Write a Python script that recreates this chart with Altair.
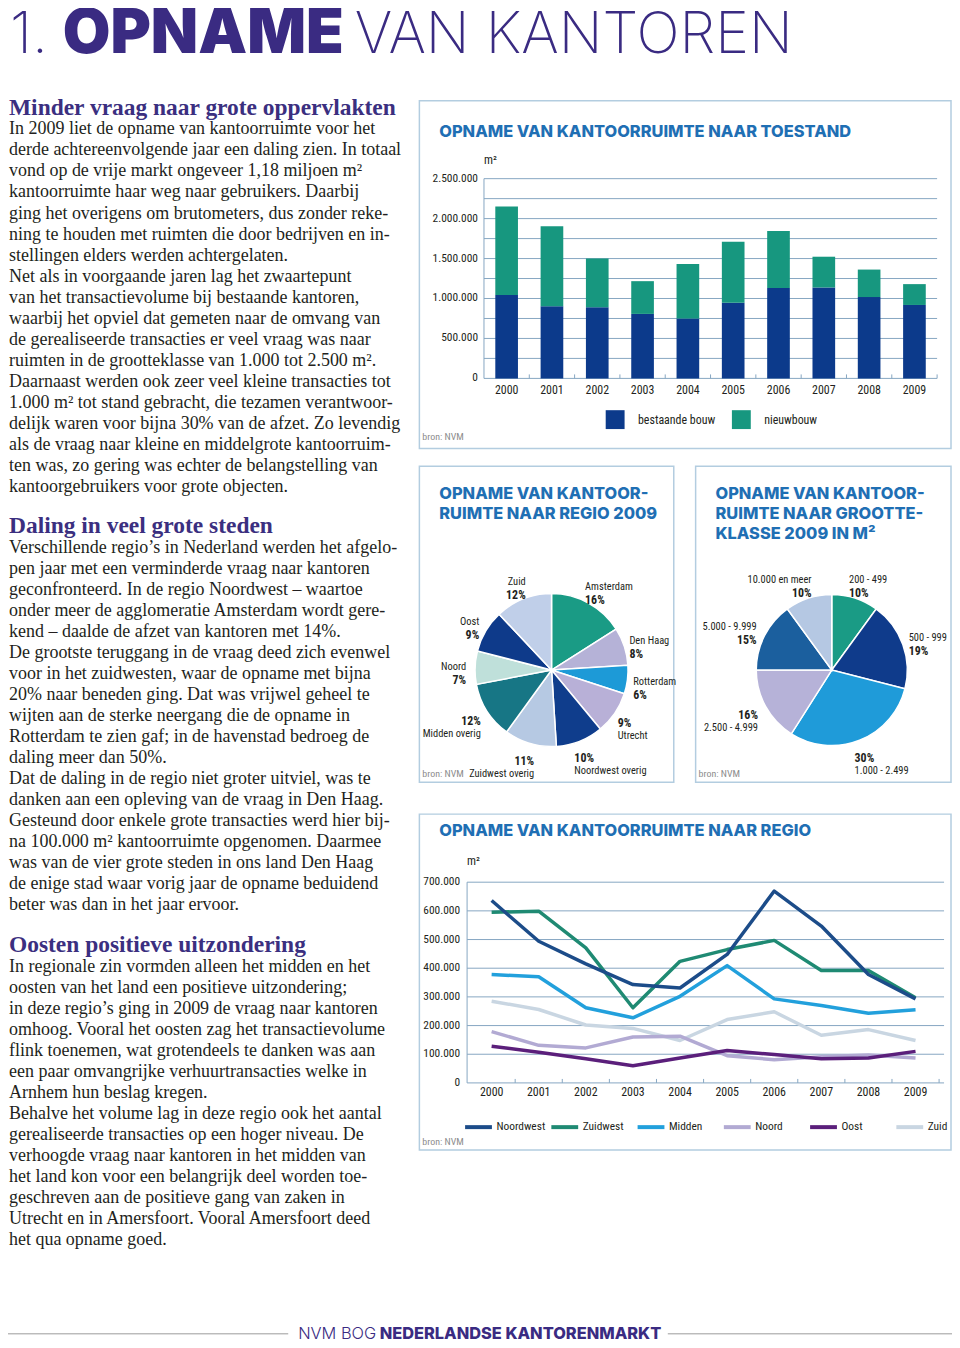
import altair as alt
import pandas as pd

# ---------------- data ----------------
years = [str(y) for y in range(2000, 2010)]

bar_series = ['bestaande bouw', 'nieuwbouw']
bestaande = [1043000, 902000, 890000, 807000, 749000, 948000, 1130000, 1138000, 1018000, 919000]
nieuwbouw = [1109000, 1002000, 612000, 410000, 683000, 761000, 716000, 385000, 344000, 261000]
bar_ticks = [0, 500000, 1000000, 1500000, 2000000, 2500000]
bar_tick_labels = ['0', '500.000', '1.000.000', '1.500.000', '2.000.000', '2.500.000']
bar_grid = [0, 250000, 500000, 750000, 1000000, 1250000, 1500000, 1750000, 2000000, 2250000, 2500000]

regio_names = ['Amsterdam', 'Den Haag', 'Rotterdam', 'Utrecht', 'Noordwest overig',
               'Zuidwest overig', 'Midden overig', 'Noord', 'Oost', 'Zuid']
regio_pct = [16, 8, 6, 9, 10, 11, 12, 7, 9, 12]

klasse_names = ['200 - 499', '500 - 999', '1.000 - 2.499', '2.500 - 4.999', '5.000 - 9.999', '10.000 en meer']
klasse_pct = [10, 19, 30, 16, 15, 10]

line_series = ['Noordwest', 'Zuidwest', 'Midden', 'Noord', 'Oost', 'Zuid']
noordwest = [636000, 494000, 415000, 343000, 331000, 448000, 669000, 547000, 378000, 293000]
zuidwest = [595000, 599000, 471000, 262000, 424000, 465000, 497000, 392000, 392000, 297000]
midden = [378000, 370000, 262000, 227000, 302000, 409000, 293000, 270000, 243000, 255000]
noord = [179000, 131000, 122000, 160000, 163000, 95000, 81000, 91000, 97000, 87000]
oost = [128000, 107000, 84000, 60000, 87000, 113000, 99000, 84000, 87000, 110000]
zuid = [285000, 256000, 202000, 190000, 148000, 221000, 248000, 166000, 186000, 148000]
line_ticks = [0, 100000, 200000, 300000, 400000, 500000, 600000, 700000]
line_tick_labels = ['0', '100.000', '200.000', '300.000', '400.000', '500.000', '600.000', '700.000']

sec1_title = "Minder vraag naar grote oppervlakten"
sec1_lines = [
    "In 2009 liet de opname van kantoorruimte voor het",
    "derde achtereenvolgende jaar een daling zien. In totaal",
    "vond op de vrije markt ongeveer 1,18 miljoen m²",
    "kantoorruimte haar weg naar gebruikers. Daarbij",
    "ging het overigens om brutometers, dus zonder reke-",
    "ning te houden met ruimten die door bedrijven en in-",
    "stellingen elders werden achtergelaten.",
    "Net als in voorgaande jaren lag het zwaartepunt",
    "van het transactievolume bij bestaande kantoren,",
    "waarbij het opviel dat gemeten naar de omvang van",
    "de gerealiseerde transacties er veel vraag was naar",
    "ruimten in de grootteklasse van 1.000 tot 2.500 m².",
    "Daarnaast werden ook zeer veel kleine transacties tot",
    "1.000 m² tot stand gebracht, die tezamen verantwoor-",
    "delijk waren voor bijna 30% van de afzet. Zo levendig",
    "als de vraag naar kleine en middelgrote kantoorruim-",
    "ten was, zo gering was echter de belangstelling van",
    "kantoorgebruikers voor grote objecten."]
sec2_title = "Daling in veel grote steden"
sec2_lines = [
    "Verschillende regio’s in Nederland werden het afgelo-",
    "pen jaar met een verminderde vraag naar kantoren",
    "geconfronteerd. In de regio Noordwest – waartoe",
    "onder meer de agglomeratie Amsterdam wordt gere-",
    "kend – daalde de afzet van kantoren met 14%.",
    "De grootste teruggang in de vraag deed zich evenwel",
    "voor in het zuidwesten, waar de opname met bijna",
    "20% naar beneden ging. Dat was vrijwel geheel te",
    "wijten aan de sterke neergang die de opname in",
    "Rotterdam te zien gaf; in de havenstad bedroeg de",
    "daling meer dan 50%.",
    "Dat de daling in de regio niet groter uitviel, was te",
    "danken aan een opleving van de vraag in Den Haag.",
    "Gesteund door enkele grote transacties werd hier bij-",
    "na 100.000 m² kantoorruimte opgenomen. Daarmee",
    "was van de vier grote steden in ons land Den Haag",
    "de enige stad waar vorig jaar de opname beduidend",
    "beter was dan in het jaar ervoor."]
sec3_title = "Oosten positieve uitzondering"
sec3_lines = [
    "In regionale zin vormden alleen het midden en het",
    "oosten van het land een positieve uitzondering;",
    "in deze regio’s ging in 2009 de vraag naar kantoren",
    "omhoog. Vooral het oosten zag het transactievolume",
    "flink toenemen, wat grotendeels te danken was aan",
    "een paar omvangrijke verhuurtransacties welke in",
    "Arnhem hun beslag kregen.",
    "Behalve het volume lag in deze regio ook het aantal",
    "gerealiseerde transacties op een hoger niveau. De",
    "verhoogde vraag naar kantoren in het midden van",
    "het land kon voor een belangrijk deel worden toe-",
    "geschreven aan de positieve gang van zaken in",
    "Utrecht en in Amersfoort. Vooral Amersfoort deed",
    "het qua opname goed."]

# ---------------- styles ----------------
OX = OY = 8
def px(v): return v - OX
def py(v): return v - OY

W, H = 950, 1336
PURPLE = '#3a2b82'
HEAD = '#3b2f80'
BLUE_T = '#1f6fb4'
BOX = '#b3cde0'
GRID = '#86a6c2'
GRAY = '#8c8c8c'
TXT = '#231f20'
NARROW = "'Roboto Condensed', 'Open Sans Condensed', 'Liberation Sans Narrow', 'Liberation Sans', sans-serif"
SANS = "Inter, Lato, sans-serif"
SERIF = "'Liberation Serif', serif"

bar_colors = ['#0c3a8b', '#17977f']
regio_colors = ['#1a9b85', '#b5b2d7', '#1d9ad7', '#b8b0d7', '#0f3d8c',
                '#b6c9e3', '#177685', '#bfe0da', '#0e3a8a', '#c0cfe9']
klasse_colors = ['#1a9b85', '#0f3b8b', '#1f9bd9', '#b6b2d8', '#1b5f9e', '#b5c8e3']
line_colors = ['#1c4c89', '#1f8a73', '#22a0dc', '#b2aad3', '#5b1f7b', '#c9d6e2']

one = pd.DataFrame({'k': [0]})


def label(text, x, y, size=12, font=NARROW, color=TXT, weight='normal', align='left',
          baseline='middle', **kw):
    return alt.Chart(pd.DataFrame({'t': [text]})).mark_text(
        align=align, baseline=baseline, font=font, fontSize=size, fontWeight=weight,
        color=color, **kw).encode(x=alt.value(px(x)), y=alt.value(py(y)), text='t:N')


def box(x1, y1, x2, y2):
    return alt.Chart(one).mark_rect(fill='white', stroke=BOX, strokeWidth=1.5).encode(
        x=alt.value(px(x1)), x2=alt.value(px(x2)), y=alt.value(py(y1)), y2=alt.value(py(y2)))


def hline(x1, x2, y, color, w=1.0):
    return alt.Chart(one).mark_rule(color=color, strokeWidth=w).encode(
        x=alt.value(px(x1)), x2=alt.value(px(x2)), y=alt.value(py(y)))


def vline(x, y1, y2, color, w=1.0):
    return alt.Chart(one).mark_rule(color=color, strokeWidth=w).encode(
        x=alt.value(px(x)), y=alt.value(py(y1)), y2=alt.value(py(y2)))


layers = []

# ---------------- page title ----------------
layers.append(label('1.', 10, 49, size=58, font=SANS, weight=200, color=PURPLE, baseline='alphabetic'))
layers.append(label('OPNAME', 63, 49, size=62, font=SANS, weight=900, color=PURPLE, baseline='alphabetic'))
layers.append(label('VAN KANTOREN', 357, 49, size=57.5, font=SANS, weight=200, color=PURPLE, baseline='alphabetic'))

# ---------------- text column ----------------
for title, lines, ty, by in [(sec1_title, sec1_lines, 111, 131),
                             (sec2_title, sec2_lines, 532, 552),
                             (sec3_title, sec3_lines, 954, 974)]:
    layers.append(label(title, 9, ty, size=23.6, font=SERIF, weight='bold', color=HEAD, baseline='alphabetic'))
    layers.append(label('\n'.join(lines), 9, by, size=18.1, font=SERIF, color=TXT,
                        baseline='alphabetic', lineBreak='\n', lineHeight=21.15))

# ---------------- panel boxes ----------------
layers += [box(422, 97, 957, 447), box(422, 465, 678, 783), box(700, 465, 957, 783), box(422, 815, 957, 1153)]

# ---------------- bar chart ----------------
bar_df = pd.DataFrame({'year': years + years,
                       'serie': [bar_series[0]] * 10 + [bar_series[1]] * 10,
                       'value': bestaande + nieuwbouw,
                       'ord': [0] * 10 + [1] * 10})
def xb():
    return alt.Scale(type='band', domain=years, range=[px(487), px(943)], paddingInner=0.5, paddingOuter=0.25)
def yb():
    return alt.Scale(domain=[0, 2500000], range=[py(376.5), py(175.5)], nice=False)
def cb():
    return alt.Scale(domain=bar_series, range=bar_colors)

layers.append(label('OPNAME VAN KANTOORRUIMTE NAAR TOESTAND', 442, 129, size=16.5, font=SANS, weight=800, color=BLUE_T))
layers.append(label('m²', 487, 157, size=12, color=TXT))
layers.append(alt.Chart(pd.DataFrame({'v': bar_grid})).mark_rule(color=GRID, strokeWidth=1).encode(
    y=alt.Y('v:Q', scale=yb(), axis=None), x=alt.value(px(487)), x2=alt.value(px(943))))
layers.append(alt.Chart(bar_df).mark_bar().encode(
    x=alt.X('year:N', scale=xb(), axis=None),
    y=alt.Y('value:Q', scale=yb(), axis=None, stack='zero'),
    color=alt.Color('serie:N', scale=cb(), legend=None),
    order=alt.Order('ord:Q')))
layers.append(vline(487, 175.5, 376.5, GRID))
layers.append(alt.Chart(pd.DataFrame({'year': years})).mark_rule(color=GRID, strokeWidth=1).encode(
    x=alt.X('year:N', scale=alt.Scale(type='band', domain=years, range=[px(487), px(943)],
                                      paddingInner=0, paddingOuter=0), bandPosition=1, axis=None),
    y=alt.value(py(372.5)), y2=alt.value(py(376.5))))
layers.append(alt.Chart(pd.DataFrame({'v': bar_ticks, 't': bar_tick_labels})).mark_text(
    align='right', baseline='middle', font=NARROW, fontSize=11.5, color=TXT).encode(
    y=alt.Y('v:Q', scale=yb(), axis=None), x=alt.value(px(481)), text='t:N'))
layers.append(alt.Chart(pd.DataFrame({'year': years})).mark_text(
    align='center', baseline='middle', font=NARROW, fontSize=12, color=TXT).encode(
    x=alt.X('year:N', scale=xb(), axis=None), y=alt.value(py(388)), text='year:N'))
leg_df = pd.DataFrame({'serie': bar_series})
def xleg():
    return alt.Scale(type='point', domain=bar_series, range=[px(619), px(746)], padding=0)
layers.append(alt.Chart(leg_df).mark_square(size=361, opacity=1).encode(
    x=alt.X('serie:N', scale=xleg(), axis=None), y=alt.value(py(418)),
    color=alt.Color('serie:N', scale=cb(), legend=None)))
layers.append(alt.Chart(leg_df).mark_text(align='left', baseline='middle', dx=23, font=NARROW,
                                          fontSize=12, color=TXT).encode(
    x=alt.X('serie:N', scale=xleg(), axis=None), y=alt.value(py(418)), text='serie:N'))
layers.append(label('bron: NVM', 425, 436, size=10, color=GRAY))


# ---------------- pies ----------------
def pie_layers(names, pcts, colors, cx, cy, r, rl):
    df = pd.DataFrame({'name': names, 'pct': pcts, 'idx': list(range(len(names)))})
    theta = alt.Theta('pct:Q', stack=True)
    out = [alt.Chart(df).mark_arc(outerRadius=r, stroke='white', strokeWidth=1.5).encode(
        theta=theta,
        color=alt.Color('name:N', scale=alt.Scale(domain=names, range=colors), legend=None),
        order=alt.Order('idx:Q'), x=alt.value(px(cx)), y=alt.value(py(cy)))]
    lab = alt.Chart(df).transform_joinaggregate(tot='sum(pct)').transform_window(
        cum='sum(pct)', sort=[alt.SortField('idx', order='ascending')]).transform_calculate(
        mid="(datum.cum - datum.pct / 2) / datum.tot * 2 * PI").transform_calculate(
        up="cos(datum.mid) > -0.3", right="sin(datum.mid) >= 0").transform_calculate(
        tn="datum.up ? datum.name + '\\n ' : ' \\n' + datum.name",
        tp="datum.up ? ' \\n' + datum.pct + '%' : datum.pct + '%\\n '").transform_calculate(
        tn_r="datum.right ? datum.tn : ''", tn_l="datum.right ? '' : datum.tn",
        tp_r="datum.right ? datum.tp : ''", tp_l="datum.right ? '' : datum.tp")
    common = dict(theta=theta, order=alt.Order('idx:Q'), x=alt.value(px(cx)), y=alt.value(py(cy)))
    for side, al, dx in [('r', 'left', -12), ('l', 'right', 9)]:
        out.append(lab.mark_text(radius=rl, dx=dx, font=NARROW, fontSize=10.5, lineBreak='\n',
                                 lineHeight=13, color=TXT, baseline='middle', align=al).encode(
            text=alt.Text('tn_%s:N' % side), **common))
        out.append(lab.mark_text(radius=rl, dx=dx, font=NARROW, fontSize=12, fontWeight='bold',
                                 lineBreak='\n', lineHeight=13, color=TXT, baseline='middle',
                                 align=al).encode(text=alt.Text('tp_%s:N' % side), **common))
    return out

layers.append(label('OPNAME VAN KANTOOR-\nRUIMTE NAAR REGIO 2009', 442, 493, size=16.5, font=SANS,
                    weight=800, color=BLUE_T, lineBreak='\n', lineHeight=20))
layers += pie_layers(regio_names, regio_pct, regio_colors, 555, 670, 77, 95)
layers.append(label('bron: NVM', 425, 775, size=10, color=GRAY))

layers.append(label('OPNAME VAN KANTOOR-\nRUIMTE NAAR GROOTTE-\nKLASSE 2009 IN M²', 720, 493, size=16.5,
                    font=SANS, weight=800, color=BLUE_T, lineBreak='\n', lineHeight=20))
layers += pie_layers(klasse_names, klasse_pct, klasse_colors, 837, 670, 76, 95)
layers.append(label('bron: NVM', 703, 775, size=10, color=GRAY))

# ---------------- line chart ----------------
line_df = pd.DataFrame({'year': years * 6,
                        'serie': sum([[s] * 10 for s in line_series], []),
                        'value': noordwest + zuidwest + midden + noord + oost + zuid})
def xl():
    return alt.Scale(type='point', domain=years, range=[px(471), px(945)], padding=0.5)
def yl():
    return alt.Scale(domain=[0, 700000], range=[py(1085.5), py(883.5)], nice=False)
def cl():
    return alt.Scale(domain=line_series, range=line_colors)

layers.append(label('OPNAME VAN KANTOORRUIMTE NAAR REGIO', 442, 832, size=16.5, font=SANS, weight=800, color=BLUE_T))
layers.append(label('m²', 470, 862, size=12, color=TXT))
layers.append(alt.Chart(pd.DataFrame({'v': line_ticks})).mark_rule(color=GRID, strokeWidth=1).encode(
    y=alt.Y('v:Q', scale=yl(), axis=None), x=alt.value(px(470)), x2=alt.value(px(950))))
layers.append(vline(470, 883.5, 1085.5, GRID))
layers.append(alt.Chart(pd.DataFrame({'year': years})).mark_rule(color=GRID, strokeWidth=1).encode(
    x=alt.X('year:N', scale=alt.Scale(type='band', domain=years, range=[px(471), px(945)],
                                      paddingInner=0, paddingOuter=0), bandPosition=1, axis=None),
    y=alt.value(py(1081.5)), y2=alt.value(py(1085.5))))
for s in ['Zuid', 'Noord', 'Oost', 'Midden', 'Zuidwest', 'Noordwest']:
    layers.append(alt.Chart(line_df).transform_filter(alt.datum.serie == s).mark_line(
        strokeWidth=3.5, strokeJoin='round').encode(
        x=alt.X('year:N', scale=xl(), axis=None),
        y=alt.Y('value:Q', scale=yl(), axis=None),
        color=alt.Color('serie:N', scale=cl(), legend=None)))
layers.append(alt.Chart(pd.DataFrame({'v': line_ticks, 't': line_tick_labels})).mark_text(
    align='right', baseline='middle', font=NARROW, fontSize=11.5, color=TXT).encode(
    y=alt.Y('v:Q', scale=yl(), axis=None), x=alt.value(px(463)), text='t:N'))
layers.append(alt.Chart(pd.DataFrame({'year': years})).mark_text(
    align='center', baseline='middle', font=NARROW, fontSize=12, color=TXT).encode(
    x=alt.X('year:N', scale=xl(), axis=None), y=alt.value(py(1095)), text='year:N'))
lleg = pd.DataFrame({'serie': line_series})
def xll():
    return alt.Scale(type='point', domain=line_series, range=[px(481.5), px(915.5)], padding=0)
layers.append(alt.Chart(lleg).mark_point(shape='stroke', size=729, strokeWidth=4, filled=False, opacity=1).encode(
    x=alt.X('serie:N', scale=xll(), axis=None), y=alt.value(py(1130)),
    color=alt.Color('serie:N', scale=cl(), legend=None)))
layers.append(alt.Chart(lleg).mark_text(align='left', baseline='middle', dx=18, font=NARROW,
                                        fontSize=11.5, color=TXT).encode(
    x=alt.X('serie:N', scale=xll(), axis=None), y=alt.value(py(1130)), text='serie:N'))
layers.append(label('bron: NVM', 425, 1145, size=10, color=GRAY))

# ---------------- footer ----------------
layers.append(hline(8, 290, 1338, '#9a9a9a', 1))
layers.append(hline(672, 958, 1338, '#9a9a9a', 1))
layers.append(label('NVM BOG', 300, 1338, size=16.5, font=SANS, weight=300, color=PURPLE))
layers.append(label('NEDERLANDSE KANTORENMARKT', 382, 1338, size=16.5, font=SANS, weight=800, color=PURPLE))

chart = alt.layer(*layers).resolve_scale(
    x='independent', y='independent', color='independent', theta='independent'
).properties(
    width=W, height=H, autosize=alt.AutoSizeParams(type='none'), padding=0, background='white'
).configure_view(stroke=None)

chart.save("out.html", embed_options={"renderer": "svg", "actions": False})
